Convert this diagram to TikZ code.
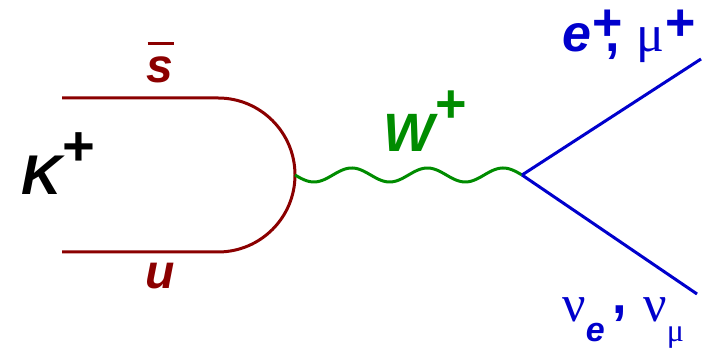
\documentclass[tikz,border=0pt]{standalone}
\usepackage{fontspec}
\setmainfont{Liberation Sans}
\newfontfamily\greekfont{Liberation Serif}
\definecolor{quarkred}{RGB}{139,0,0}
\definecolor{bosongreen}{RGB}{0,140,0}
\definecolor{leptonblue}{RGB}{0,0,204}
\tikzset{
  quark/.style={quarkred,line width=1.5pt},
  boson/.style={bosongreen,line width=1.5pt},
  lepton/.style={leptonblue,line width=1.5pt},
  lbl/.style={inner sep=0pt,font=\bfseries\itshape}
}
\begin{document}
\begin{tikzpicture}[x=0.5pt,y=0.5pt]
\useasboundingbox (0,0) rectangle (710,351);
\coordinate (sbarin) at (62,253);
\coordinate (sbarturn) at (218,253);
\coordinate (uin) at (62,99);
\coordinate (wstart) at (295,176);
\coordinate (vtx) at (522,176);
\coordinate (eout) at (701,292);
\coordinate (nuout) at (697,57);
% meson: quark pair bent into a half loop
\draw[quark] (sbarin) -- (sbarturn) arc (90:-90:77) -- (uin);
% W propagator, three full waves from wstart to vtx
\draw[boson,shift={(wstart)}] plot[domain=0:227,samples=120,smooth]
  (\x,{-7*sin(4.7577*\x)});
\draw[lepton] (vtx) -- (eout);
\draw[lepton] (vtx) -- (nuout);
% labels
\node[lbl,anchor=base west] (kaon) at (21,156)
  {\fontsize{28pt}{28pt}\selectfont K\raisebox{0.52em}{+}};
\node[lbl,quarkred,anchor=base] (sbar) at (160,268)
  {\fontsize{24pt}{24pt}\selectfont\rlap{\hspace{0.02em}\rule[0.8em]{0.54em}{1.5pt}}s};
\node[lbl,quarkred,anchor=base] (ulbl) at (160,62)
  {\fontsize{24pt}{24pt}\selectfont u};
\node[lbl,bosongreen,anchor=base west] (wlbl) at (383,199)
  {\fontsize{27pt}{27pt}\selectfont W\raisebox{0.55em}{+}};
\node[lbl,leptonblue,anchor=base west] (elbl) at (562,299)
  {\fontsize{26pt}{26pt}\selectfont e\raisebox{0.23em}{+}\hspace{-8pt}{\upshape,}\hspace{8pt}{\greekfont\mdseries\upshape μ}\raisebox{0.23em}{+}};
\node[lbl,leptonblue,anchor=base west] (nulbl) at (562,29)
  {\fontsize{26pt}{26pt}\selectfont{\greekfont\mdseries\upshape ν}\raisebox{-10pt}{\fontsize{17pt}{17pt}\selectfont e}\hspace{4pt}\raisebox{4pt}{\upshape,}\hspace{8pt}{\greekfont\mdseries\upshape ν}\raisebox{-10pt}{\fontsize{16pt}{16pt}\selectfont\greekfont\mdseries\upshape μ}};
\end{tikzpicture}
\end{document}
